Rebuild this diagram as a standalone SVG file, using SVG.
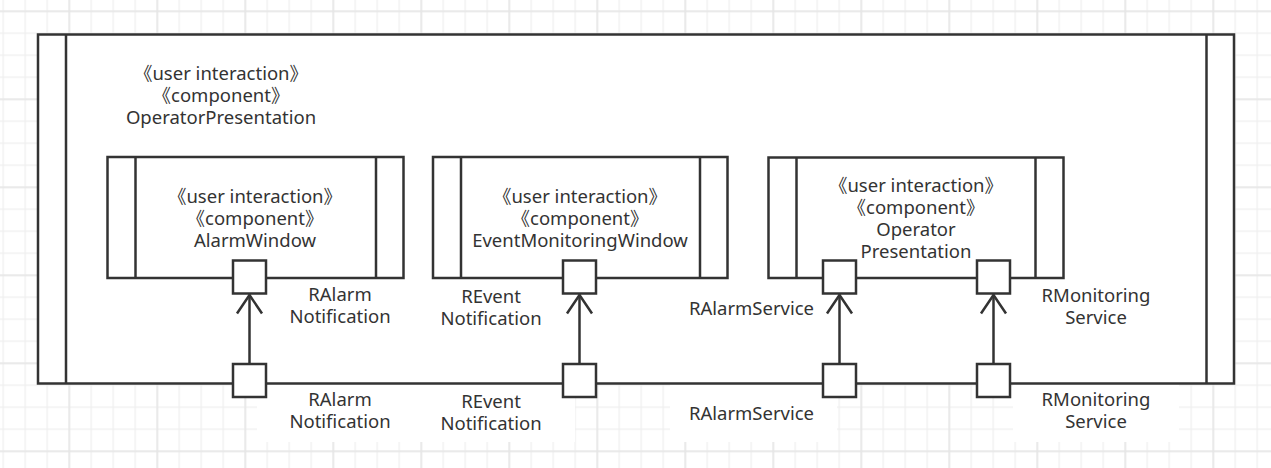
<svg xmlns="http://www.w3.org/2000/svg" width="1271" height="468" viewBox="0 0 1271 468">
  <style>
    .box { fill: #ffffff; stroke: #333333; stroke-width: 2.5; }
    .ln { fill: none; stroke: #333333; stroke-width: 2.5; }
    .t { font-family: "Noto Sans", "Noto Sans CJK SC", sans-serif; font-size: 18.5px; fill: #333333; text-anchor: middle; }
    .bg { fill: #ffffff; }
  </style>
  <defs>
    <pattern id="minor" patternUnits="userSpaceOnUse" x="2.5" y="10.5" width="22" height="22">
      <path d="M0 0.5H22M0.5 0V22" fill="none" stroke="#efefef" stroke-width="1.5"/>
    </pattern>
    <pattern id="major" patternUnits="userSpaceOnUse" x="68.5" y="10.5" width="88" height="88">
      <path d="M0 0.5H88M0.5 0V88" fill="none" stroke="#e6e6e6" stroke-width="2"/>
    </pattern>
  </defs>
  <rect width="1271" height="468" fill="#ffffff"/>
  <rect width="1271" height="468" fill="url(#minor)"/>
  <rect width="1271" height="468" fill="url(#major)"/>

  <!-- label backgrounds below outer box -->
  <g id="label-bgs">
    <rect class="bg" x="257" y="384" width="166" height="58"/>
    <rect class="bg" x="408" y="384" width="167" height="58"/>
    <rect class="bg" x="670" y="384" width="167" height="58"/>
    <rect class="bg" x="1013" y="384" width="166" height="58"/>
  </g>

  <g id="OperatorPresentationOuter">
    <rect class="box" x="38" y="34.5" width="1196" height="349"/>
    <line class="ln" x1="66" y1="34.5" x2="66" y2="383.5"/>
    <line class="ln" x1="1206.5" y1="34.5" x2="1206.5" y2="383.5"/>
    <text class="t" x="221" y="80">《user interaction》</text>
    <text class="t" x="221" y="102">《component》</text>
    <text class="t" x="221" y="124">OperatorPresentation</text>
  </g>

  <g id="AlarmWindow">
    <rect class="box" x="107.5" y="157" width="296" height="121"/>
    <line class="ln" x1="135.5" y1="157" x2="135.5" y2="278"/>
    <line class="ln" x1="376" y1="157" x2="376" y2="278"/>
    <text class="t" x="255" y="203">《user interaction》</text>
    <text class="t" x="255" y="225">《component》</text>
    <text class="t" x="255" y="247">AlarmWindow</text>
  </g>

  <g id="EventMonitoringWindow">
    <rect class="box" x="433" y="157" width="294.5" height="121"/>
    <line class="ln" x1="461" y1="157" x2="461" y2="278"/>
    <line class="ln" x1="700" y1="157" x2="700" y2="278"/>
    <text class="t" x="580" y="203">《user interaction》</text>
    <text class="t" x="580" y="225">《component》</text>
    <text class="t" x="580" y="247">EventMonitoringWindow</text>
  </g>

  <g id="OperatorPresentationInner">
    <rect class="box" x="768.5" y="157.5" width="295" height="120.5"/>
    <line class="ln" x1="796.5" y1="157.5" x2="796.5" y2="278"/>
    <line class="ln" x1="1035.5" y1="157.5" x2="1035.5" y2="278"/>
    <text class="t" x="916" y="192">《user interaction》</text>
    <text class="t" x="916" y="214">《component》</text>
    <text class="t" x="916" y="236">Operator</text>
    <text class="t" x="916" y="258">Presentation</text>
  </g>

  <g id="connectors">
    <line class="ln" x1="249.5" y1="364" x2="249.5" y2="294.5"/>
    <polyline class="ln" points="237,313.5 249.5,295 262,313.5"/>
    <line class="ln" x1="579.5" y1="364" x2="579.5" y2="294.5"/>
    <polyline class="ln" points="567,313.5 579.5,295 592,313.5"/>
    <line class="ln" x1="839.5" y1="364" x2="839.5" y2="294.5"/>
    <polyline class="ln" points="827,313.5 839.5,295 852,313.5"/>
    <line class="ln" x1="993.5" y1="364" x2="993.5" y2="294.5"/>
    <polyline class="ln" points="981,313.5 993.5,295 1006,313.5"/>
  </g>

  <g id="port-top-RAlarmNotification">
    <rect class="box" x="233" y="260.5" width="33" height="33"/>
    <text class="t" x="340" y="301">RAlarm</text>
    <text class="t" x="340" y="323">Notification</text>
  </g>
  <g id="port-top-REventNotification">
    <rect class="box" x="563" y="260.5" width="33" height="33"/>
    <text class="t" x="491" y="303">REvent</text>
    <text class="t" x="491" y="325">Notification</text>
  </g>
  <g id="port-top-RAlarmService">
    <rect class="box" x="823" y="260.5" width="33" height="33"/>
    <text class="t" x="751.5" y="315">RAlarmService</text>
  </g>
  <g id="port-top-RMonitoringService">
    <rect class="box" x="977" y="260.5" width="33" height="33"/>
    <text class="t" x="1096" y="302">RMonitoring</text>
    <text class="t" x="1096" y="324">Service</text>
  </g>

  <g id="port-bottom-RAlarmNotification">
    <rect class="box" x="233" y="364" width="33" height="33"/>
    <text class="t" x="340" y="406">RAlarm</text>
    <text class="t" x="340" y="428">Notification</text>
  </g>
  <g id="port-bottom-REventNotification">
    <rect class="box" x="563" y="364" width="33" height="33"/>
    <text class="t" x="491" y="407.5">REvent</text>
    <text class="t" x="491" y="430">Notification</text>
  </g>
  <g id="port-bottom-RAlarmService">
    <rect class="box" x="823" y="364" width="33" height="33"/>
    <text class="t" x="751.5" y="420">RAlarmService</text>
  </g>
  <g id="port-bottom-RMonitoringService">
    <rect class="box" x="977" y="364" width="33" height="33"/>
    <text class="t" x="1096" y="406">RMonitoring</text>
    <text class="t" x="1096" y="428">Service</text>
  </g>
</svg>
